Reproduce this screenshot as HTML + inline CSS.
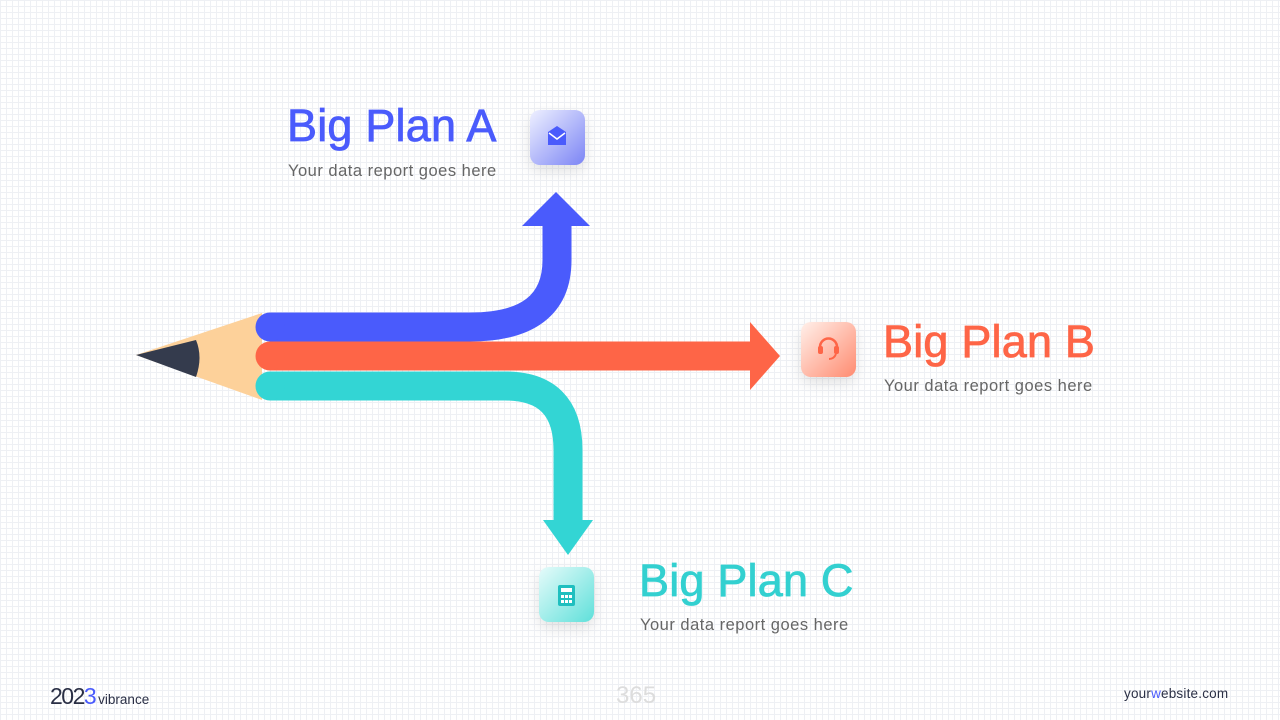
<!DOCTYPE html>
<html><head><style>
body{margin:0;width:1280px;height:720px;overflow:hidden;font-family:"Liberation Sans",sans-serif;
background-color:#fff;
background-image:linear-gradient(#eef0f4 1px,transparent 1px),linear-gradient(90deg,#eef0f4 1px,transparent 1px);
background-size:6px 6px;position:relative}
.t{position:absolute;font-size:45px;letter-spacing:0.2px;-webkit-text-stroke:0.8px currentColor}
.s{position:absolute;font-size:16.5px;letter-spacing:0.5px;color:#666}
</style></head><body>
<svg width="1280" height="720" style="position:absolute;left:0;top:0">
<defs>
<linearGradient id="ga" x1="0" y1="0" x2="1" y2="1"><stop offset="0" stop-color="#eef0ff"/><stop offset="1" stop-color="#7c85f5"/></linearGradient>
<linearGradient id="gb" x1="0" y1="0" x2="1" y2="1"><stop offset="0" stop-color="#fff0ea"/><stop offset="1" stop-color="#ff8b70"/></linearGradient>
<linearGradient id="gc" x1="0" y1="0" x2="1" y2="1"><stop offset="0" stop-color="#e6fbfa"/><stop offset="1" stop-color="#5fe0da"/></linearGradient>
<filter id="sh" x="-50%" y="-50%" width="200%" height="200%"><feDropShadow dx="0" dy="6" stdDeviation="7" flood-opacity="0.25" flood-color="#888"/></filter>
</defs>
<polygon points="136,355 262,313 262,400" fill="#fdd19a"/>
<path d="M136,355 L196,340 Q203,357 196,377 Z" fill="#343b4d"/>
<path d="M270,327 H470 Q557,327 557,260 V224" stroke="#4a5bfc" stroke-width="29" fill="none" stroke-linecap="butt"/>
<circle cx="270" cy="327" r="14.5" fill="#4a5bfc"/>
<polygon points="522,226 590,226 556,192" fill="#4a5bfc"/>
<path d="M270,356 H752" stroke="#fe6547" stroke-width="29" fill="none"/>
<circle cx="270" cy="356" r="14.5" fill="#fe6547"/>
<polygon points="750,322 750,390 780,356" fill="#fe6547"/>
<path d="M270,386 H505 Q568,386 568,450 V522" stroke="#33d5d4" stroke-width="29" fill="none"/>
<circle cx="270" cy="386" r="14.5" fill="#33d5d4"/>
<polygon points="543,520 593,520 568,555" fill="#33d5d4"/>
<rect x="530" y="110" width="55" height="55" rx="10" fill="url(#ga)" filter="url(#sh)"/>
<path d="M548,132 L557,126 L566,132 V145 H548 Z" fill="#4a5bfc"/><path d="M549,133 L557,139 L565,133" stroke="#fff" stroke-width="1.5" fill="none"/>
<rect x="801" y="322" width="55" height="55" rx="10" fill="url(#gb)" filter="url(#sh)"/>
<path d="M820,352 V347 A8.5,8.5 0 0 1 837,347 V352" stroke="#fe6547" stroke-width="2.5" fill="none"/><rect x="818" y="346" width="5" height="8" rx="2" fill="#fe6547"/><rect x="834" y="346" width="5" height="8" rx="2" fill="#fe6547"/><path d="M836,354 Q834,359 829,359" stroke="#fe6547" stroke-width="2" fill="none"/>
<rect x="539" y="567" width="55" height="55" rx="10" fill="url(#gc)" filter="url(#sh)"/>
<rect x="558" y="585" width="17" height="21" rx="2" fill="#1fbfbf"/><rect x="561" y="588" width="11" height="4" fill="#fff"/>
<g fill="#fff"><rect x="561" y="595" width="3" height="3"/><rect x="565" y="595" width="3" height="3"/><rect x="569" y="595" width="3" height="3"/><rect x="561" y="600" width="3" height="3"/><rect x="565" y="600" width="3" height="3"/><rect x="569" y="600" width="3" height="3"/></g>
</svg>
<div class="t" style="left:287px;top:100px;color:#4a5bfc">Big Plan A</div>
<div class="s" style="left:288px;top:162px">Your data report goes here</div>
<div class="t" style="left:883px;top:316px;color:#fe6547">Big Plan B</div>
<div class="s" style="left:884px;top:377px">Your data report goes here</div>
<div class="t" style="left:639px;top:555px;color:#33d0d0">Big Plan C</div>
<div class="s" style="left:640px;top:616px">Your data report goes here</div>
<div style="position:absolute;left:50px;top:683px;font-size:23px;color:#2a2f45;letter-spacing:-1.5px">202<span style="color:#4a5bfc">3</span><span style="font-size:13.5px;letter-spacing:0;margin-left:3px">vibrance</span></div>
<div style="position:absolute;left:616px;top:682px;font-size:24px;color:#ddd">365</div>
<div style="position:absolute;left:1124px;top:686px;font-size:13.5px;letter-spacing:0.2px;color:#2a2f45">your<span style="color:#4a5bfc">w</span>ebsite.com</div>
</body></html>
